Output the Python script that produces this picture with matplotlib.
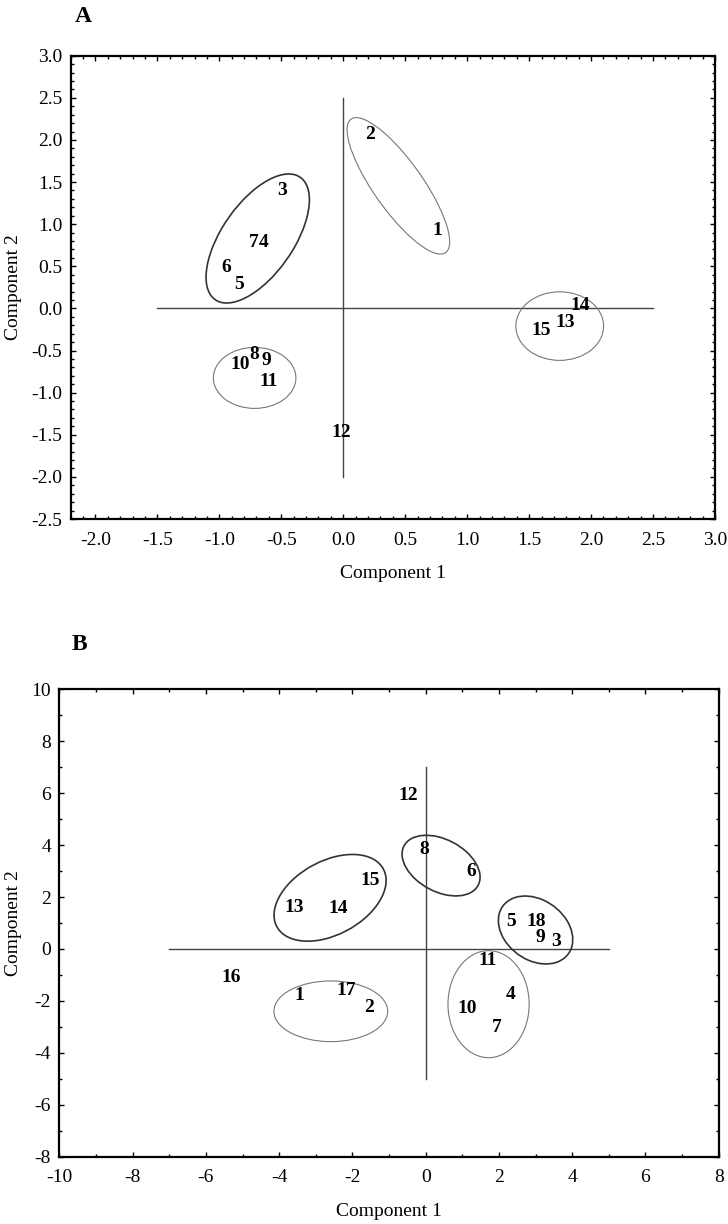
import numpy as np
import matplotlib
matplotlib.use("Agg")
import matplotlib.pyplot as plt
from matplotlib.patches import Ellipse
from matplotlib.ticker import MultipleLocator, FormatStrFormatter

plt.rcParams['font.family'] = ['Liberation Serif', 'DejaVu Serif']

# ---------------- Panel A data ----------------
a_labels = ['1', '2', '3', '7', '4', '6', '5', '8', '9', '10', '11', '12', '13', '14', '15']
a_x = [0.76, 0.22, -0.49, -0.72, -0.64, -0.94, -0.84, -0.715, -0.62, -0.83, -0.60, -0.015, 1.79, 1.91, 1.60]
a_y = [0.92, 2.06, 1.40, 0.78, 0.78, 0.49, 0.28, -0.55, -0.62, -0.665, -0.87, -1.47, -0.17, 0.03, -0.26]

# ellipses: centre x, centre y, half x-extent, half y-extent, correlation, dark
a_ell_cx = [0.445, -0.69, -0.715, 1.747]
a_ell_cy = [1.455, 0.83, -0.825, -0.21]
a_ell_sx = [0.414, 0.417, 0.333, 0.354]
a_ell_sy = [0.81, 0.766, 0.362, 0.407]
a_ell_r = [-0.82, 0.60, 0.0, 0.0]
a_ell_dark = [False, True, False, False]

# ---------------- Panel B data ----------------
b_labels = ['1', '2', '3', '4', '5', '6', '7', '8', '9', '10', '11', '12', '13', '14', '15', '16', '17', '18']
b_x = [-3.45, -1.55, 3.55, 2.32, 2.32, 1.24, 1.94, -0.05, 3.12, 1.12, 1.69, -0.47, -3.60, -2.40, -1.52, -5.31, -2.18, 3.02]
b_y = [-1.80, -2.24, 0.30, -1.76, 1.04, 3.00, -3.02, 3.83, 0.46, -2.28, -0.45, 5.90, 1.59, 1.54, 2.64, -1.09, -1.61, 1.06]

b_ell_cx = [-2.61, 0.42, 3.0, 1.717, -2.59]
b_ell_cy = [1.97, 3.21, 0.73, -2.126, -2.40]
b_ell_sx = [1.53, 1.065, 1.016, 1.108, 1.553]
b_ell_sy = [1.67, 1.168, 1.309, 2.06, 1.169]
b_ell_r = [0.40, -0.38, -0.28, 0.0, 0.0]
b_ell_dark = [True, True, True, False, False]

W, H = 728, 1224
fig = plt.figure(figsize=(W / 100, H / 100), dpi=100)


def make_ellipse(cx, cy, sx, sy, r, dark):
    S = np.array([[sx * sx, r * sx * sy], [r * sx * sy, sy * sy]])
    w, v = np.linalg.eigh(S)
    ang = np.degrees(np.arctan2(v[1, 1], v[0, 1]))
    return Ellipse((cx, cy), 2 * np.sqrt(w[1]), 2 * np.sqrt(w[0]), angle=ang,
                   fill=False, edgecolor='#333333' if dark else '#777777',
                   lw=1.2 if dark else 0.8, zorder=2)


def style_axes(ax, major, minor, fmt):
    for s in ax.spines.values():
        s.set_linewidth(1.6)
    ax.xaxis.set_major_locator(MultipleLocator(major))
    ax.yaxis.set_major_locator(MultipleLocator(major))
    ax.xaxis.set_minor_locator(MultipleLocator(minor))
    ax.yaxis.set_minor_locator(MultipleLocator(minor))
    ax.xaxis.set_major_formatter(FormatStrFormatter(fmt))
    ax.yaxis.set_major_formatter(FormatStrFormatter(fmt))
    ax.tick_params(which='both', direction='in', top=True, right=True, width=1.0)
    ax.tick_params(which='major', length=3.5, labelsize=14)
    ax.tick_params(which='minor', length=2)
    ax.tick_params(axis='y', pad=6)
    ax.tick_params(axis='x', pad=9)


def draw_panel(ax, labels, xs, ys, ecx, ecy, esx, esy, er, edark, hline, vline):
    ax.plot(hline[0], [0, 0], color='#444444', lw=1.0, zorder=1)
    ax.plot([0, 0], vline[0], color='#444444', lw=1.0, zorder=1)
    for i in range(len(ecx)):
        ax.add_patch(make_ellipse(ecx[i], ecy[i], esx[i], esy[i], er[i], edark[i]))
    for lab, x, y in zip(labels, xs, ys):
        ax.text(x, y, lab, ha='center', va='center', fontsize=14,
                fontweight='bold', zorder=3)


# ---- Panel A ----
axA = fig.add_axes([70.6 / W, 1 - 519 / H, (715 - 70.6) / W, (519 - 55.7) / H])
axA.set_xlim(-2.2, 3.0)
axA.set_ylim(-2.5, 3.0)
style_axes(axA, 0.5, 0.1, '%.1f')
draw_panel(axA, a_labels, a_x, a_y, a_ell_cx, a_ell_cy, a_ell_sx, a_ell_sy,
           a_ell_r, a_ell_dark, [[-1.5, 2.5]], [[-2.0, 2.5]])
axA.set_xlabel('Component 1', fontsize=14)
axA.set_ylabel('Component 2', fontsize=14)
axA.xaxis.set_label_coords(0.5, -0.10)
axA.yaxis.set_label_coords(-0.075, 0.5)
fig.text(83 / W, 1 - 16 / H, 'A', fontsize=17, fontweight='bold', ha='center', va='center')

# ---- Panel B ----
axB = fig.add_axes([59.4 / W, 1 - 1156.7 / H, (718.7 - 59.4) / W, (1156.7 - 689.3) / H])
axB.set_xlim(-10, 8)
axB.set_ylim(-8, 10)
style_axes(axB, 2, 1, '%d')
draw_panel(axB, b_labels, b_x, b_y, b_ell_cx, b_ell_cy, b_ell_sx, b_ell_sy,
           b_ell_r, b_ell_dark, [[-7, 5]], [[-5, 7]])
axB.set_xlabel('Component 1', fontsize=14)
axB.set_ylabel('Component 2', fontsize=14)
axB.xaxis.set_label_coords(0.5, -0.099)
axB.yaxis.set_label_coords(-0.057, 0.5)
fig.text(79 / W, 1 - 645 / H, 'B', fontsize=17, fontweight='bold', ha='center', va='center')

fig.savefig('out.png', dpi=100)
